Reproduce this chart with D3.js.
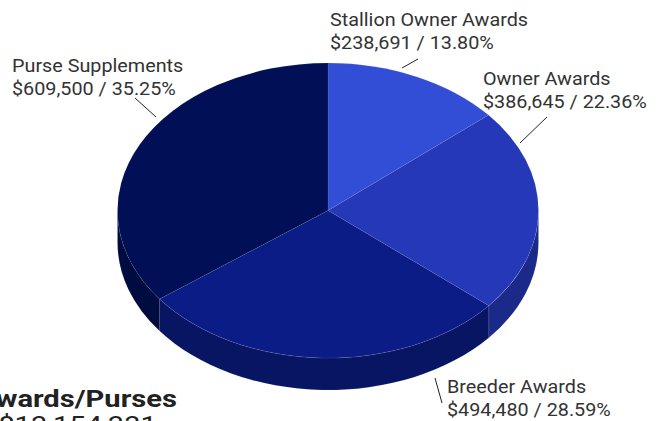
<!DOCTYPE html>
<html>
<head>
<meta charset="utf-8">
<script src="https://cdn.jsdelivr.net/npm/d3@7"></script>
<style>
  html, body { margin: 0; padding: 0; background: #fff; }
  svg { display: block; font-family: Roboto, "Noto Sans", sans-serif; }
</style>
</head>
<body>
<svg id="chart" width="663" height="421"></svg>
<script>
// ---- data ----
const categories = ["Stallion Owner Awards", "Owner Awards", "Breeder Awards", "Purse Supplements"];
const amounts = [238691, 386645, 494480, 609500];
const percentLabels = ["13.80%", "22.36%", "28.59%", "35.25%"];
const titleText = "Total Awards/Purses";
const subtitleText = "$13,154,331";

// ---- styles ----
const colors = ["#334ed6", "#2438b8", "#0b1c86", "#000f56"];
const cx = 328, cy = 210.5, rx = 210.5, ry = 147.5, depth = 32;
const labelScaleX = 1.07, titleScaleX = 1.24;

const svg = d3.select("#chart");
const data = categories.map((c, i) => ({ name: c, value: amounts[i], pct: percentLabels[i], color: colors[i] }));

const pie = d3.pie().sort(null).value(d => d.value).startAngle(0).endAngle(2 * Math.PI);
const arcs = pie(data);

const pt = (a, dy = 0) => [cx + rx * Math.sin(a), cy - ry * Math.cos(a) + dy];
const fmt = p => p[0].toFixed(2) + "," + p[1].toFixed(2);

// sides (front half only: angles between PI/2 and 3PI/2)
const sides = svg.append("g");
arcs.forEach(d => {
  const a0 = Math.max(d.startAngle, Math.PI / 2);
  const a1 = Math.min(d.endAngle, 3 * Math.PI / 2);
  if (a1 <= a0) return;
  const large = (a1 - a0) > Math.PI ? 1 : 0;
  const path = "M" + fmt(pt(a0)) +
    " A" + rx + " " + ry + " 0 " + large + " 1 " + fmt(pt(a1)) +
    " L" + fmt(pt(a1, depth)) +
    " A" + rx + " " + ry + " 0 " + large + " 0 " + fmt(pt(a0, depth)) + " Z";
  sides.append("path")
    .attr("d", path)
    .attr("fill", d3.color(d.data.color).darker(0.85))
    .attr("stroke", "rgba(255,255,255,0.12)")
    .attr("stroke-width", 0.6);
});

// tops
const tops = svg.append("g");
arcs.forEach(d => {
  const large = (d.endAngle - d.startAngle) > Math.PI ? 1 : 0;
  const path = "M" + cx + "," + cy + " L" + fmt(pt(d.startAngle)) +
    " A" + rx + " " + ry + " 0 " + large + " 1 " + fmt(pt(d.endAngle)) + " Z";
  tops.append("path")
    .attr("d", path)
    .attr("fill", d.data.color)
    .attr("stroke", "rgba(255,255,255,0.12)")
    .attr("stroke-width", 0.6);
});

// labels
const labelPos = [
  { x: 330, y: 26, line: [[402, 68], [418, 59]] },
  { x: 483, y: 85, line: [[520, 143], [547, 117]] },
  { x: 447, y: 393, line: [[435, 378], [442, 403]] },
  { x: 12, y: 72, line: [[156, 117], [135, 98]] }
];
const labels = svg.append("g");
arcs.forEach((d, i) => {
  const lp = labelPos[i];
  labels.append("line")
    .attr("x1", lp.line[0][0]).attr("y1", lp.line[0][1])
    .attr("x2", lp.line[1][0]).attr("y2", lp.line[1][1])
    .attr("stroke", "#222").attr("stroke-width", 1);
  const t = labels.append("text")
    .attr("transform", "translate(" + lp.x + "," + lp.y + ") scale(" + labelScaleX + ",1)")
    .attr("font-size", 18.5)
    .attr("fill", "#333");
  t.append("tspan").attr("x", 0).attr("y", 0).text(d.data.name);
  t.append("tspan").attr("x", 0).attr("y", 23.5)
    .text(d3.format("$,")(d.data.value) + " / " + d.data.pct);
});

// title (partially cut off at bottom-left)
svg.append("text")
  .attr("transform", "translate(177,406.5) scale(" + titleScaleX + ",1)")
  .attr("text-anchor", "end")
  .attr("font-size", 23.5).attr("font-weight", "bold")
  .attr("fill", "#222")
  .text(titleText);
svg.append("text")
  .attr("transform", "translate(157,433) scale(" + titleScaleX + ",1)")
  .attr("text-anchor", "end")
  .attr("font-size", 23.5)
  .attr("fill", "#222")
  .text(subtitleText);
</script>
</body>
</html>
